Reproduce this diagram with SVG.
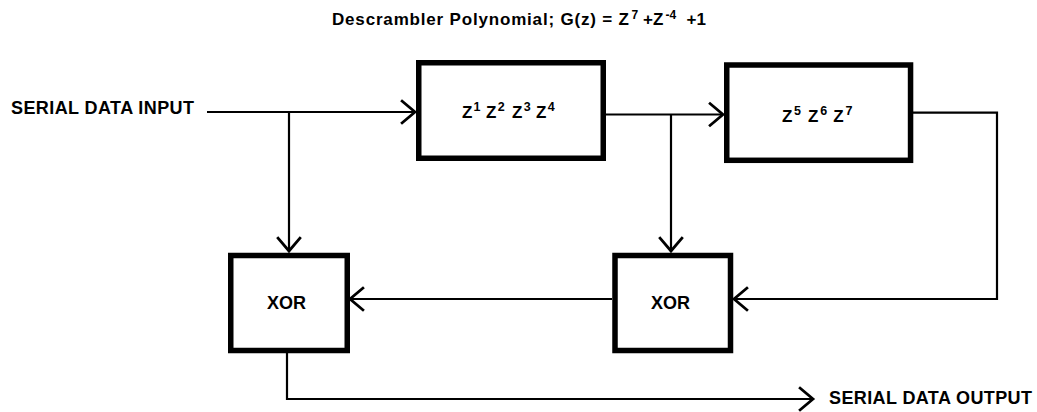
<svg xmlns="http://www.w3.org/2000/svg" width="1037" height="412" viewBox="0 0 1037 412">
<style>
text{font-family:"Liberation Sans",Arial,sans-serif;font-weight:bold;fill:#000}
.box{fill:#fff;stroke:#000;stroke-width:5.5}
.wire{fill:none;stroke:#000;stroke-width:2.2}
.lbl{font-size:18px}
.z{font-size:17px}
.sup{font-size:12.5px}
</style>
<defs>
<marker id="arr" markerUnits="userSpaceOnUse" markerWidth="30" markerHeight="30" viewBox="-16 -14 20 28" refX="0" refY="0" orient="auto">
<path d="M-13,-11 L0,0 L-13,11" fill="none" stroke="#000" stroke-width="2.6"/>
</marker>
</defs>
<rect width="1037" height="412" fill="#fff"/>
<g id="title">
<text font-size="17"><tspan x="332" y="25" textLength="297" lengthAdjust="spacing">Descrambler Polynomial; G(z) = Z</tspan><tspan x="631.5" y="18.5" font-size="12">7</tspan><tspan x="643" y="25">+Z</tspan><tspan x="665.5" y="18.5" font-size="12">-4</tspan><tspan x="686.5" y="25">+1</tspan></text>
</g>
<g id="connectors">
<path class="wire" d="M207,112 H415" marker-end="url(#arr)"/>
<path class="wire" d="M289,112 V251" marker-end="url(#arr)"/>
<path class="wire" d="M606,114.5 H723" marker-end="url(#arr)"/>
<path class="wire" d="M671,114.5 V251" marker-end="url(#arr)"/>
<path class="wire" d="M913,112.7 H997 V299 H734" marker-end="url(#arr)"/>
<path class="wire" d="M612,299 H350" marker-end="url(#arr)"/>
<path class="wire" d="M287,353 V399 H813" marker-end="url(#arr)"/>
</g>
<g id="input">
<text class="lbl" x="11" y="114" textLength="183" lengthAdjust="spacing">SERIAL DATA INPUT</text>
</g>
<g id="output">
<text class="lbl" x="829" y="404" textLength="203" lengthAdjust="spacing">SERIAL DATA OUTPUT</text>
</g>
<g id="delay1">
<rect class="box" x="418.75" y="62.75" width="184.5" height="95.5"/>
<text class="z"><tspan x="462" y="117.5">Z</tspan><tspan class="sup" x="473.5" y="111">1</tspan><tspan x="486" y="117.5">Z</tspan><tspan class="sup" x="497.8" y="111">2</tspan><tspan x="512" y="117.5">Z</tspan><tspan class="sup" x="523.8" y="111">3</tspan><tspan x="536" y="117.5">Z</tspan><tspan class="sup" x="547.8" y="111">4</tspan></text>
</g>
<g id="delay2">
<rect class="box" x="726.75" y="65" width="183.8" height="95.3"/>
<text class="z"><tspan x="782" y="121.7">Z</tspan><tspan class="sup" x="794" y="115">5</tspan><tspan x="808" y="121.7">Z</tspan><tspan class="sup" x="820.3" y="115">6</tspan><tspan x="833.3" y="121.7">Z</tspan><tspan class="sup" x="845.5" y="115">7</tspan></text>
</g>
<g id="xor1">
<rect class="box" x="230.75" y="255.5" width="116.5" height="95"/>
<text class="lbl" x="286.5" y="308.5" text-anchor="middle">XOR</text>
</g>
<g id="xor2">
<rect class="box" x="615" y="255.5" width="115.5" height="95"/>
<text class="lbl" x="670.5" y="308.5" text-anchor="middle">XOR</text>
</g>
</svg>
